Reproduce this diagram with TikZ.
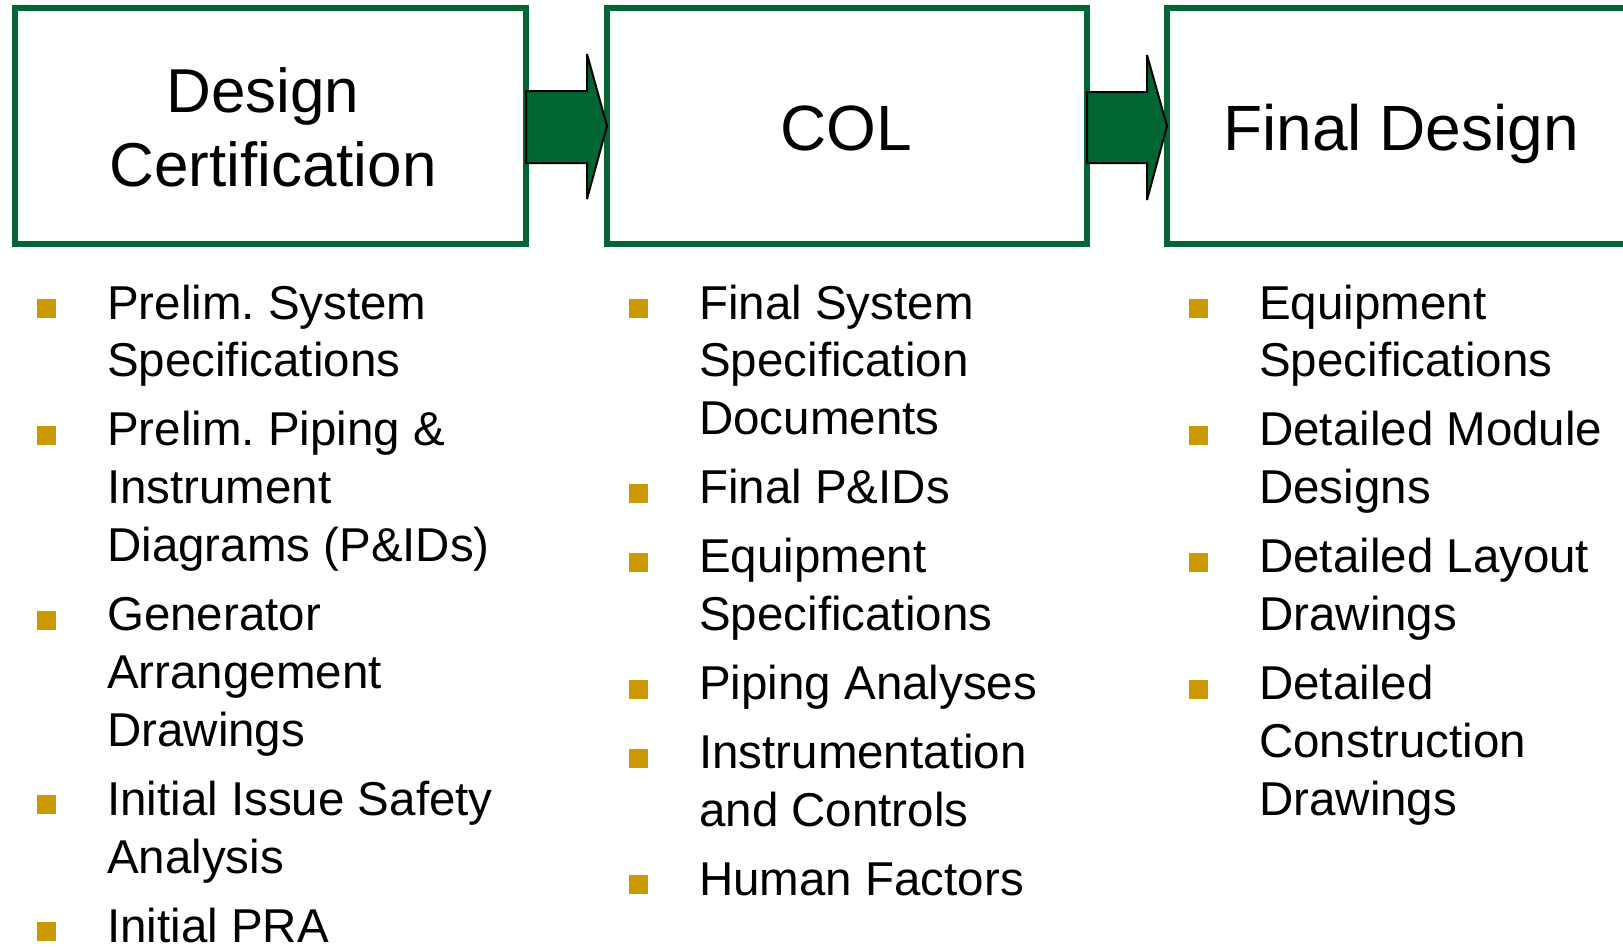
\documentclass[tikz,border=0pt]{standalone}
\usepackage{fontspec}
\setmainfont{Liberation Sans}
\usetikzlibrary{calc}
\definecolor{dgreen}{HTML}{006633}
\definecolor{gold}{HTML}{CC9900}
\frenchspacing
\begin{document}
\begin{tikzpicture}[x=1pt,y=-1pt,
  box/.style={draw=dgreen, line width=6.5pt, fill=white, outer sep=0pt, inner sep=0pt, minimum height=236pt},
  headA/.style={font=\fontsize{62}{74}\selectfont, inner sep=0pt, anchor=base},
  headB/.style={font=\fontsize{64}{76}\selectfont, inner sep=0pt},
  item/.style={font=\fontsize{47.5}{57.9}\selectfont, inner sep=0pt, anchor=base west, align=left},
  bullet/.style={fill=gold, minimum size=19pt, inner sep=0pt, anchor=south west},
  blockarrow/.style={fill=dgreen, draw=black, line width=2pt, line join=miter, miter limit=3}]
\clip (0,0) rectangle (1623,946);
\fill[white] (0,0) rectangle (1623,946);
% boxes
\node[box, minimum width=511pt] (dc) at (270.5,126) {};
\node[box, minimum width=480pt] (col) at (847,126) {};
\node[box, minimum width=480pt] (fd) at (1407,126) {};
% headings
\node[headA] (h1a) at (263,112.7) {Design};
\node[headA] (h1b) at (273,186.7) {Certification};
\node[headB, anchor=base] (h2) at (846,150) {COL};
\node[headB, anchor=base west] (h3) at (1223,150) {Final Design};
% block arrows
\draw[blockarrow] ($(dc.east)+(0,-35)$) -- ($(col.west)+(-20,-35)$) -- ($(col.west)+(-20,-72)$) -- (col.west) -- ($(col.west)+(-20,73)$) -- ($(col.west)+(-20,37)$) -- ($(dc.east)+(0,37)$) -- cycle;
\draw[blockarrow] ($(col.east)+(0,-34)$) -- ($(fd.west)+(-20,-34)$) -- ($(fd.west)+(-20,-71)$) -- (fd.west) -- ($(fd.west)+(-20,74)$) -- ($(fd.west)+(-20,37)$) -- ($(col.east)+(0,37)$) -- cycle;
% column 1 (base = last line)
\node[bullet] (b11) at (37,318) {};
\node[item] (i11) at (107,376.9) {Prelim. System\\Specifications};
\node[bullet] (b12) at (37,444.9) {};
\node[item] (i12) at (107,561.7) {Prelim. Piping \&\\Instrument\\Diagrams (P\&IDs)};
\node[bullet] (b13) at (37,629.7) {};
\node[item] (i13) at (107,746.5) {Generator\\Arrangement\\Drawings};
\node[bullet] (b14) at (37,814.5) {};
\node[item] (i14) at (107,873.4) {Initial Issue Safety\\Analysis};
\node[bullet] (b15) at (37,941.4) {};
\node[item] (i15) at (107,942.4) {Initial PRA};
% column 2
\node[bullet] (b21) at (629,318) {};
\node[item] (i21) at (699,434.8) {Final System\\Specification\\Documents};
\node[bullet] (b22) at (629,502.8) {};
\node[item] (i22) at (699,503.8) {Final P\&IDs};
\node[bullet] (b23) at (629,571.8) {};
\node[item] (i23) at (699,630.7) {Equipment\\Specifications};
\node[bullet] (b24) at (629,698.7) {};
\node[item] (i24) at (699,699.7) {Piping Analyses};
\node[bullet] (b25) at (629,767.7) {};
\node[item] (i25) at (699,826.6) {Instrumentation\\and Controls};
\node[bullet] (b26) at (629,894.6) {};
\node[item] (i26) at (699,895.6) {Human Factors};
% column 3
\node[bullet] (b31) at (1189,318) {};
\node[item] (i31) at (1259,376.9) {Equipment\\Specifications};
\node[bullet] (b32) at (1189,444.9) {};
\node[item] (i32) at (1259,503.8) {Detailed Module\\Designs};
\node[bullet] (b33) at (1189,571.8) {};
\node[item] (i33) at (1259,630.7) {Detailed Layout\\Drawings};
\node[bullet] (b34) at (1189,698.7) {};
\node[item] (i34) at (1259,815.5) {Detailed\\Construction\\Drawings};
\end{tikzpicture}
\end{document}
